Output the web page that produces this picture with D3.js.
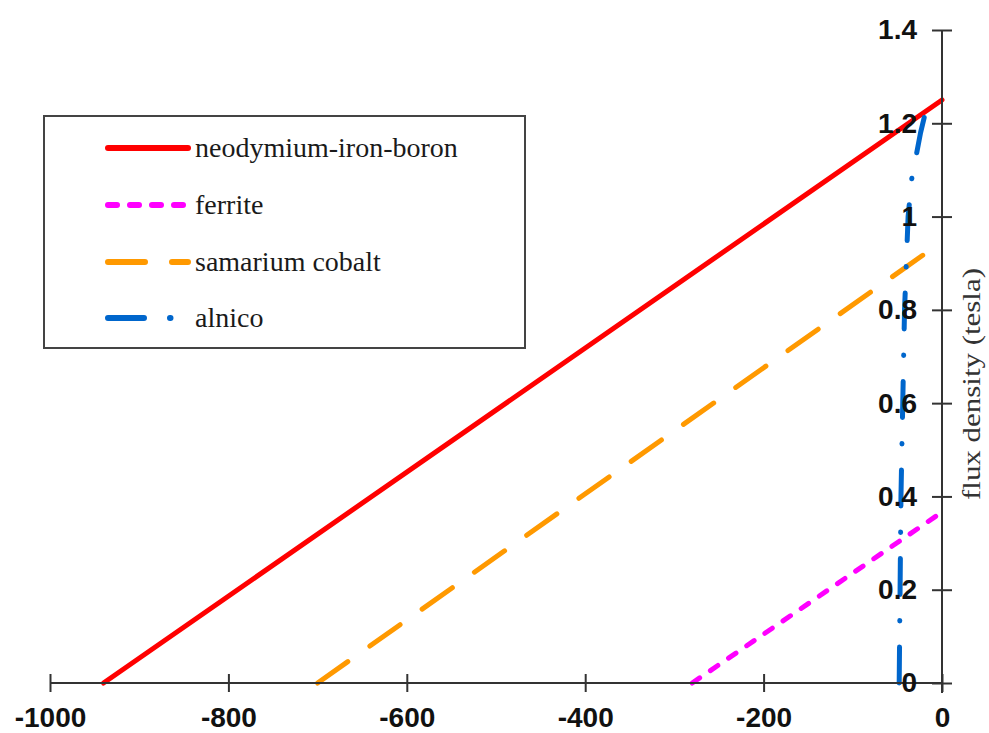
<!DOCTYPE html>
<html>
<head>
<meta charset="utf-8">
<script src="https://cdn.jsdelivr.net/npm/d3@7"></script>
<style>
  body { margin: 0; background: #fff; }
  svg { display: block; }
</style>
</head>
<body>
<svg width="989" height="733"></svg>
<script>
// demagnetisation curves
const seriesNames = ['neodymium-iron-boron', 'ferrite', 'samarium cobalt', 'alnico'];

const ndfebX = [-940, 0];
const ndfebY = [0, 1.25];

const ferriteX = [-280, -5];
const ferriteY = [0, 0.36];

const smcoX = [-700, -12];
const smcoY = [0, 0.93];

const alnicoX = [-48, -47, -46, -44, -42, -38, -34, -29, -24, -19];
const alnicoY = [0, 0.2, 0.4, 0.6, 0.8, 1.0, 1.08, 1.13, 1.18, 1.22];

const xTicks = [-1000, -800, -600, -400, -200, 0];
const yTicks = [0, 0.2, 0.4, 0.6, 0.8, 1, 1.2, 1.4];

const svg = d3.select('svg');
const x = d3.scaleLinear().domain([-1000, 0]).range([50, 942]);
const y = d3.scaleLinear().domain([0, 1.4]).range([683, 30]);

const styles = [
    {color: '#ff0000', dash: null},
    {color: '#ff00ff', dash: '9,13'},
    {color: '#ff9900', dash: '37,27'},
    {color: '#0066cc', dash: '36,26,0.5,26'}
];
const series = [
    [ndfebX, ndfebY], [ferriteX, ferriteY], [smcoX, smcoY], [alnicoX, alnicoY]
];

const line = d3.line().x(d => x(d[0])).y(d => y(d[1]));

// curves (drawn first so the axis labels sit on top)
series.forEach((s, i) => {
    const pts = s[0].map((v, j) => [v, s[1][j]]);
    svg.append('path')
        .attr('d', line(pts))
        .attr('fill', 'none')
        .attr('stroke', styles[i].color)
        .attr('stroke-width', 5)
        .attr('stroke-linecap', 'round')
        .attr('stroke-dasharray', styles[i].dash);
});

// x axis
const xAxis = svg.append('g')
    .attr('transform', `translate(0,${y(0)})`)
    .call(d3.axisBottom(x).tickValues(xTicks).tickFormat(d => String(d)).tickSize(9).tickPadding(15));
xAxis.selectAll('.tick line').attr('y1', -9);

// y axis
const yAxis = svg.append('g')
    .attr('transform', `translate(${x(0)},0)`)
    .call(d3.axisRight(y).tickValues(yTicks).tickFormat(d => String(d)).tickSize(10));
yAxis.selectAll('.tick line').attr('x1', -10);
yAxis.selectAll('.tick text')
    .attr('x', -25)
    .attr('text-anchor', 'end');

svg.selectAll('.domain').attr('stroke', '#333').attr('stroke-width', 2);
svg.selectAll('.tick line').attr('stroke', '#333').attr('stroke-width', 2);
svg.selectAll('.tick text')
    .attr('font-family', 'Liberation Sans, Arial, sans-serif')
    .attr('font-weight', 'bold')
    .attr('font-size', 28)
    .attr('fill', '#111');
xAxis.select('.domain').attr('d', `M${x(-1000)},0H${x(0)}`);
yAxis.select('.domain').attr('d', `M0,${y(1.4)}V${y(0) + 10}`);

// axis title
svg.append('text')
    .attr('transform', `translate(980,${384}) rotate(-90)`)
    .attr('text-anchor', 'middle')
    .attr('font-family', 'Liberation Serif, Times New Roman, serif')
    .attr('font-size', 26)
    .attr('textLength', 232)
    .attr('lengthAdjust', 'spacingAndGlyphs')
    .attr('fill', '#333')
    .text('flux density (tesla)');

// legend
const legend = svg.append('g');
legend.append('rect')
    .attr('x', 44).attr('y', 116)
    .attr('width', 481).attr('height', 232)
    .attr('fill', '#fff')
    .attr('stroke', '#444')
    .attr('stroke-width', 2);

const legendY = [148, 205, 262, 318];
seriesNames.forEach((name, i) => {
    legend.append('line')
        .attr('x1', 108).attr('x2', 188)
        .attr('y1', legendY[i]).attr('y2', legendY[i])
        .attr('stroke', styles[i].color)
        .attr('stroke-width', 6)
        .attr('stroke-linecap', 'round')
        .attr('stroke-dasharray', styles[i].dash);
    legend.append('text')
        .attr('x', 195)
        .attr('y', legendY[i])
        .attr('dy', '0.32em')
        .attr('font-family', 'Liberation Serif, Times New Roman, serif')
        .attr('font-size', 28)
        .attr('fill', '#1a1a1a')
        .text(name);
});
</script>
</body>
</html>
